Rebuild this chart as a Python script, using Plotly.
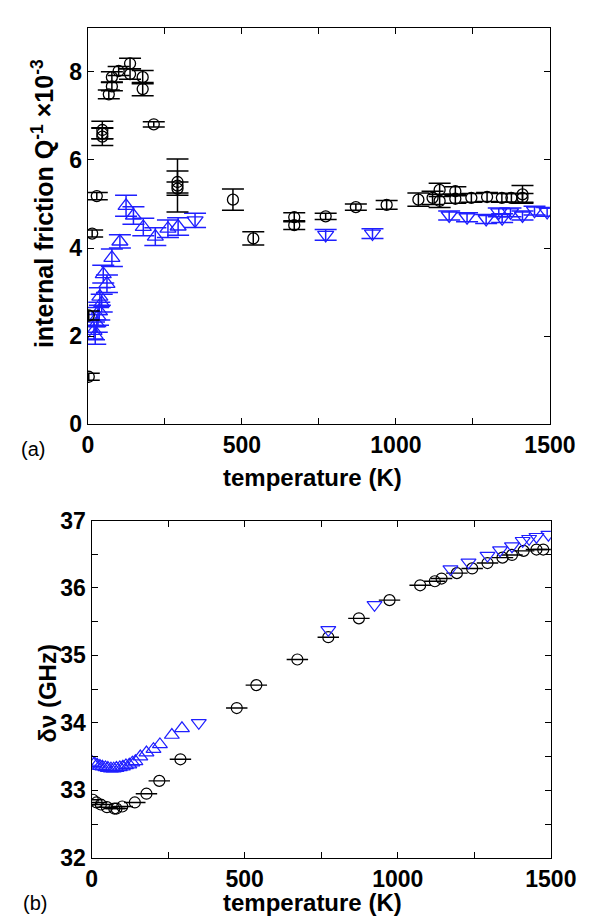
import plotly.graph_objects as go

# ---------------- panel (a): internal friction ----------------
Ta_blk = [3, 3, 14, 29, 47, 47, 47, 68, 78, 78, 100, 137, 137, 178, 178, 214, 291, 291, 291,
          471, 537, 670, 670, 772, 870, 970, 1073, 1119, 1142, 1142, 1193, 1193, 1245, 1296,
          1344, 1375, 1411, 1411]
Qa_blk = [1.08, 2.47, 4.33, 5.18, 6.68, 6.60, 6.53, 7.49, 7.67, 7.88, 8.02, 8.19, 7.95, 7.88, 7.61,
          6.81, 5.42, 5.50, 5.35, 5.10, 4.22, 4.70, 4.52, 4.72, 4.93, 4.98, 5.10, 5.14, 5.32, 5.07,
          5.29, 5.12, 5.14, 5.16, 5.14, 5.14, 5.14, 5.22]
Ea_blk = [0.08, 0.10, 0.08, 0.08, 0.20, 0.12, 0.20, 0.10, 0.10, 0.12, 0.10, 0.12, 0.12, 0.15, 0.15,
          0.06, 0.60, 0.25, 0.15, 0.24, 0.15, 0.10, 0.10, 0.07, 0.07, 0.10, 0.15, 0.15, 0.15, 0.15,
          0.10, 0.10, 0.10, 0.10, 0.10, 0.10, 0.10, 0.20]

Ta_up = [20, 24, 29, 33, 37, 39, 45, 50, 62, 78, 104, 124, 148, 180, 219, 260, 293]
Qa_up = [2.12, 2.02, 2.29, 2.45, 2.57, 2.90, 2.75, 3.41, 3.19, 3.78, 4.15, 4.96, 4.74, 4.48, 4.26,
         4.44, 4.49]
Ea_up = [0.2, 0.2, 0.2, 0.2, 0.2, 0.2, 0.2, 0.2, 0.2, 0.2, 0.15, 0.24, 0.2, 0.2, 0.2, 0.2, 0.2]

Ta_dn = [348, 772, 924, 1173, 1231, 1293, 1334, 1345, 1372, 1411, 1450, 1491]
Qa_dn = [4.63, 4.30, 4.33, 4.74, 4.70, 4.66, 4.81, 4.68, 4.81, 4.74, 4.85, 4.82]
Ea_dn = [0.16, 0.12, 0.11, 0.10, 0.10, 0.10, 0.10, 0.10, 0.10, 0.10, 0.10, 0.10]

# ---------------- panel (b): frequency shift ----------------
Tb_blk = [4, 16, 30, 50, 74, 81, 100, 141, 179, 221, 290, 474, 538, 672, 773, 873, 973, 1073,
          1121, 1143, 1193, 1243, 1293, 1342, 1373, 1411, 1453, 1475]
Vb_blk = [32.86, 32.82, 32.79, 32.75, 32.73, 32.73, 32.76, 32.82, 32.95, 33.14, 33.46, 34.22,
          34.56, 34.94, 35.27, 35.55, 35.82, 36.04, 36.10, 36.14, 36.22, 36.29, 36.37, 36.45,
          36.49, 36.55, 36.57, 36.57]
Eb_blk = [35] * len(Tb_blk)

Tb_up = [1, 9, 18, 27, 35, 45, 53, 63, 72, 81, 92, 102, 112, 123, 133, 143, 159, 179, 202, 223,
         262, 295]
Vb_up = [33.42, 33.40, 33.38, 33.36, 33.35, 33.34, 33.33, 33.32, 33.32, 33.33, 33.34, 33.35,
         33.37, 33.38, 33.41, 33.43, 33.50, 33.56, 33.61, 33.68, 33.82, 33.92]

Tb_dn = [350, 773, 924, 1172, 1231, 1293, 1334, 1373, 1408, 1429, 1453, 1492]
Vb_dn = [34.00, 35.38, 35.75, 36.28, 36.38, 36.48, 36.56, 36.62, 36.70, 36.73, 36.76, 36.79]

BLACK = "#000000"
BLUE = "#1f1fff"
W, H = 602, 924
FONT = "Liberation Sans, Arial, Helvetica, sans-serif"

fig = go.Figure()

def err_trace(x, y, e, color, symbol, size, xa, ya):
    return go.Scatter(
        x=x, y=y, mode="markers", xaxis=xa, yaxis=ya,
        marker=dict(symbol=symbol, size=size, color=color, line=dict(color=color, width=1.3)),
        error_y=dict(type="data", array=e, visible=True, color=color, thickness=1.5, width=11),
        showlegend=False)

fig.add_trace(err_trace(Ta_up, Qa_up, Ea_up, BLUE, "triangle-up-open", 14, "x", "y"))
fig.add_trace(err_trace(Ta_dn, Qa_dn, Ea_dn, BLUE, "triangle-down-open", 14, "x", "y"))
fig.add_trace(err_trace(Ta_blk, Qa_blk, Ea_blk, BLACK, "circle-open", 11, "x", "y"))

fig.add_trace(go.Scatter(
    x=Tb_blk, y=Vb_blk, mode="markers", xaxis="x2", yaxis="y2",
    marker=dict(symbol="circle-open", size=11, color=BLACK, line=dict(color=BLACK, width=1.2)),
    error_x=dict(type="data", array=Eb_blk, visible=True, color=BLACK, thickness=1.4, width=0),
    showlegend=False))
fig.add_trace(go.Scatter(
    x=Tb_up, y=Vb_up, mode="markers", xaxis="x2", yaxis="y2",
    marker=dict(symbol="triangle-up-open", size=13, color=BLUE, line=dict(color=BLUE, width=1.2)),
    showlegend=False))
fig.add_trace(go.Scatter(
    x=Tb_dn, y=Vb_dn, mode="markers", xaxis="x2", yaxis="y2",
    marker=dict(symbol="triangle-down-open", size=13, color=BLUE, line=dict(color=BLUE, width=1.2)),
    showlegend=False))

tickfont = dict(family=FONT, size=23, color="black", weight="bold")
common = dict(showline=True, linecolor="black", linewidth=1.3, mirror="ticks",
              ticks="inside", ticklen=6, tickwidth=1, tickcolor="black",
              showgrid=False, zeroline=False, tickfont=tickfont)

fig.update_layout(
    width=W, height=H, margin=dict(l=0, r=0, t=0, b=0),
    paper_bgcolor="white", plot_bgcolor="white",
    xaxis=dict(domain=[78 / W, 566 / W], range=[0, 1500], anchor="y", dtick=500,
               minor=dict(dtick=250, ticks="inside", ticklen=6, tickcolor="black"), **common),
    yaxis=dict(domain=[1 - 415 / H, 1 - 7 / H], range=[0, 9], anchor="x", dtick=2, **common),
    xaxis2=dict(domain=[82 / W, 567 / W], range=[0, 1500], anchor="y2", dtick=500,
                minor=dict(dtick=250, ticks="inside", ticklen=6, tickcolor="black"), **common),
    yaxis2=dict(domain=[1 - 861 / H, 1 - 514 / H], range=[32, 37], anchor="x2", dtick=1,
                minor=dict(dtick=0.5, ticks="inside", ticklen=6, tickcolor="black"), **common),
)

def px_ann(text, x, y, size, bold=True, angle=0):
    fig.add_annotation(text=text, x=x / W, y=1 - y / H, xref="paper", yref="paper",
                       showarrow=False, textangle=angle, xanchor="center", yanchor="middle",
                       font=dict(family=FONT, size=size, color="black",
                                 weight="bold" if bold else "normal"))

px_ann("temperature (K)", 315, 470, 24)
px_ann("temperature (K)", 315, 907, 24)
px_ann("internal friction Q<sup>-1</sup> ×10<sup>-3</sup>", 30, 188, 25, angle=-90)
px_ann("δν (GHz)", 35, 692, 24, angle=-90)
px_ann("(a)", 20, 440, 20, bold=False)
px_ann("(b)", 22, 908, 20, bold=False)

fig.write_html("out.html")
